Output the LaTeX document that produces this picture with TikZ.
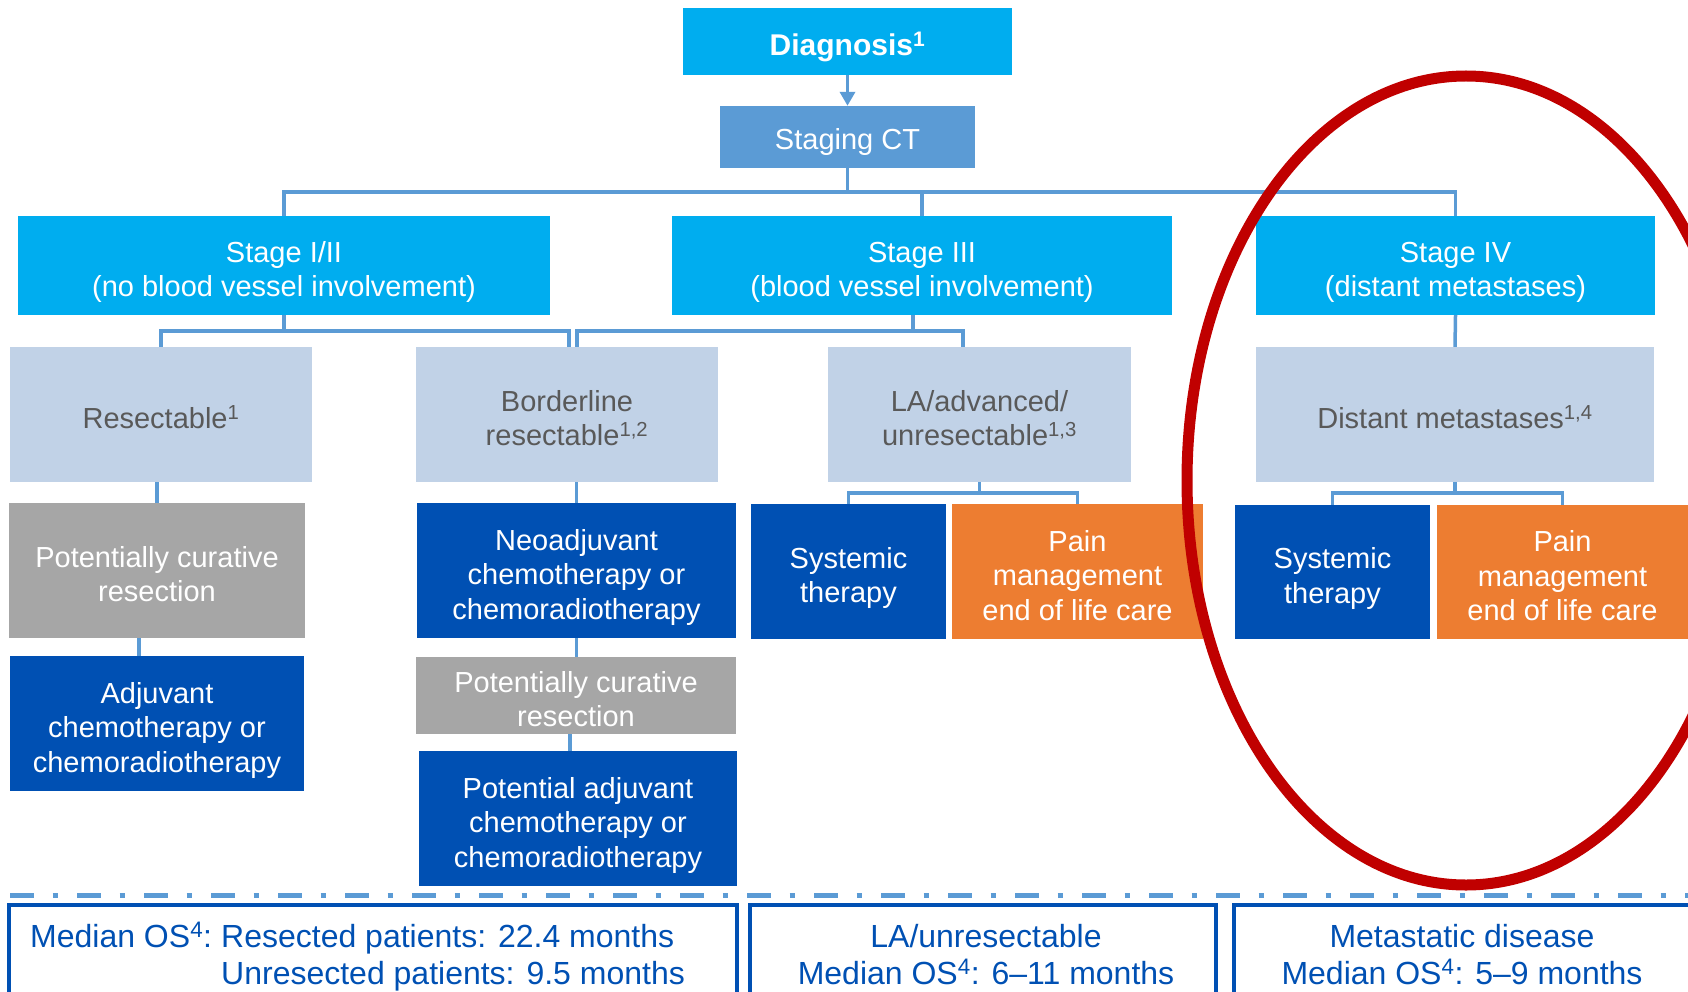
\documentclass[tikz,border=0pt]{standalone}
\usepackage{fontspec}
\setmainfont{Liberation Sans}
\usetikzlibrary{arrows.meta}
\definecolor{stageblue}{HTML}{00ADEF}
\definecolor{ctblue}{HTML}{5B9BD5}
\definecolor{linkblue}{HTML}{5B9BD5}
\definecolor{lightbox}{HTML}{C1D2E7}
\definecolor{greytext}{HTML}{595959}
\definecolor{greybox}{HTML}{A6A6A6}
\definecolor{darkblue}{HTML}{0050B3}
\definecolor{painorange}{HTML}{ED7D31}
\definecolor{ringred}{HTML}{C00000}

\begin{document}
\begin{tikzpicture}[x=1pt,y=-1pt]
\tikzstyle{box}=[rectangle, inner sep=0pt, align=center, text=white, font=\fontsize{29}{34.5}\selectfont, text depth=0pt]
% text heights so the lines sit as in the slide
\tikzstyle{oneline}=[text height=34pt, text depth=6pt]
\tikzstyle{twolines}=[text height=62.5pt, text depth=0pt]
\tikzstyle{threelines}=[text height=97pt, text depth=0pt]
\tikzstyle{stage}=[box, twolines, fill=stageblue]
\tikzstyle{subtype}=[box, fill=lightbox, text=greytext]
\tikzstyle{surgery}=[box, twolines, fill=greybox]
\tikzstyle{chemo}=[box, fill=darkblue]
\tikzstyle{palliative}=[box, threelines, fill=painorange]
\tikzstyle{link}=[draw=linkblue, line width=3.5pt]
\tikzstyle{osbox}=[rectangle, draw=darkblue, line width=3.5pt, inner sep=0pt]
\tikzstyle{ostext}=[inner sep=0pt, text=darkblue, font=\fontsize{32}{37}\selectfont]
    \path[use as bounding box, clip] (0,0) rectangle (1688,992);

    \node[stage, oneline, minimum width=329, minimum height=67, font=\fontsize{30}{35}\selectfont\bfseries] (diag) at (847.5,41.5) {Diagnosis\textsuperscript{1}};
    \node[box, oneline, fill=ctblue, minimum width=255, minimum height=62, text depth=8.5pt] (ct) at (847.5,137) {Staging CT};

    % stages
    \node[stage, minimum width=532, minimum height=99] (s12) at (284,265.5) {Stage I/II\\(no blood vessel involvement)};
    \node[stage, minimum width=500, minimum height=99] (s3) at (922,265.5) {Stage III\\(blood vessel involvement)};
    \node[stage, minimum width=399, minimum height=99] (s4) at (1455.5,265.5) {Stage IV\\(distant metastases)};

    \node[subtype, oneline, minimum width=302, minimum height=135] (res) at (161,414.5) {Resectable\textsuperscript{1}};
    \node[subtype, twolines, minimum width=302, minimum height=135] (bord) at (567,414.5) {Borderline\\resectable\textsuperscript{1,2}};
    \node[subtype, twolines, minimum width=303, minimum height=135] (la) at (979.5,414.5) {LA/advanced/\\unresectable\textsuperscript{1,3}};
    \node[subtype, oneline, minimum width=398, minimum height=135] (dist) at (1455,414.5) {Distant metastases\textsuperscript{1,4}};

    % treatment
    \node[surgery, minimum width=296, minimum height=135] (pcr1) at (157,570.5) {Potentially curative\\resection};
    \node[chemo, threelines, minimum width=319, minimum height=135] (neo) at (576.5,570.5) {Neoadjuvant\\chemotherapy or\\chemoradiotherapy};
    \node[chemo, twolines, minimum width=195, minimum height=135] (sys3) at (848.5,571.5) {Systemic\\therapy};
    \node[palliative, minimum width=251, minimum height=135] (pain3) at (1077.5,571.5) {Pain\\management\\end of life care};
    \node[chemo, twolines, minimum width=195, minimum height=134] (sys4) at (1332.5,572) {Systemic\\therapy};
    \node[palliative, minimum width=251, minimum height=134] (pain4) at (1562.5,572) {Pain\\management\\end of life care};

    \node[chemo, threelines, minimum width=294, minimum height=135] (adj) at (157,723.5) {Adjuvant\\chemotherapy or\\chemoradiotherapy};
    \node[surgery, minimum width=320, minimum height=77] (pcr2) at (576,695.5) {Potentially curative\\resection};
    \node[chemo, threelines, minimum width=318, minimum height=135] (padj) at (578,818.5) {Potential adjuvant\\chemotherapy or\\chemoradiotherapy};

    % connectors
    \coordinate (bus) at (0,192);
    \coordinate (bus2) at (0,331);
    \coordinate (bus3) at (0,493);
    \draw[link, -{Triangle[length=14pt,width=15pt]}] (diag.south) -- (ct.north);
    \draw[link] (ct.south) -- (ct.south |- bus);
    \draw[link] (s12.north) -- (s12.north |- bus) -- (s4.north |- bus) -- (s4.north);
    \draw[link] (s3.north) -- (s3.north |- bus);
    \draw[link] (s12.south) -- (s12.south |- bus2);
    \draw[link] (res.north) -- (res.north |- bus2) -- ([xshift=2]bord.north |- bus2) -- ([xshift=2]bord.north);
    \draw[link] ([xshift=-9]s3.south) -- ([xshift=-9]s3.south |- bus2);
    \draw[link] ([xshift=10]bord.north) -- ([xshift=10]bord.north |- bus2) -- ([xshift=-16.5]la.north |- bus2) -- ([xshift=-16.5]la.north);
    \draw[link] (s4.south) -- (dist.north);
    \draw[link] (res.south -| pcr1.north) -- (pcr1.north);
    \draw[link] (bord.south -| neo.north) -- (neo.north);
    \draw[link] (la.south) -- (la.south |- bus3);
    \draw[link] (sys3.north) -- (sys3.north |- bus3) -- (pain3.north |- bus3) -- (pain3.north);
    \draw[link] (dist.south) -- (dist.south |- bus3);
    \draw[link] (sys4.north) -- (sys4.north |- bus3) -- (pain4.north |- bus3) -- (pain4.north);
    \draw[link] ([xshift=-18]pcr1.south) -- ([xshift=-18]pcr1.south |- adj.north);
    \draw[link] (neo.south) -- (neo.south |- pcr2.north);
    \draw[link] ([xshift=-6]pcr2.south) -- ([xshift=-6]pcr2.south |- padj.north);

    % median OS
    \coordinate (sepL) at (10,895);
    \coordinate (sepR) at (1688,895);
    \draw[linkblue, line width=5pt, dash pattern=on 24pt off 18.5pt on 5.5pt off 19pt] (sepL) -- (sepR);
    \node[osbox, minimum width=728, minimum height=105] (os1) at (373,957.5) {};
    \node[osbox, minimum width=466, minimum height=105] (os2) at (983,957.5) {};
    \node[osbox, minimum width=456, minimum height=105] (os3) at (1462,957.5) {};
    \node[ostext, anchor=base west] (os1a) at (30,947) {Median OS\textsuperscript{4}:};
    \node[ostext, anchor=base west] (os1b) at (221,947) {Resected patients: 22.4 months};
    \node[ostext, anchor=base west] (os1c) at (221,984) {Unresected patients: 9.5 months};
    \node[ostext, anchor=base] (os2a) at (986,947) {LA/unresectable};
    \node[ostext, anchor=base] (os2b) at (986,984) {Median OS\textsuperscript{4}: 6--11 months};
    \node[ostext, anchor=base] (os3a) at (1462,947) {Metastatic disease};
    \node[ostext, anchor=base] (os3b) at (1462,984) {Median OS\textsuperscript{4}: 5--9 months};

    \draw[ringred, line width=11pt] (1466,480.5) ellipse [x radius=279, y radius=404.5];
%    \node at (dist) {Stage IV};
\end{tikzpicture}
\end{document}
